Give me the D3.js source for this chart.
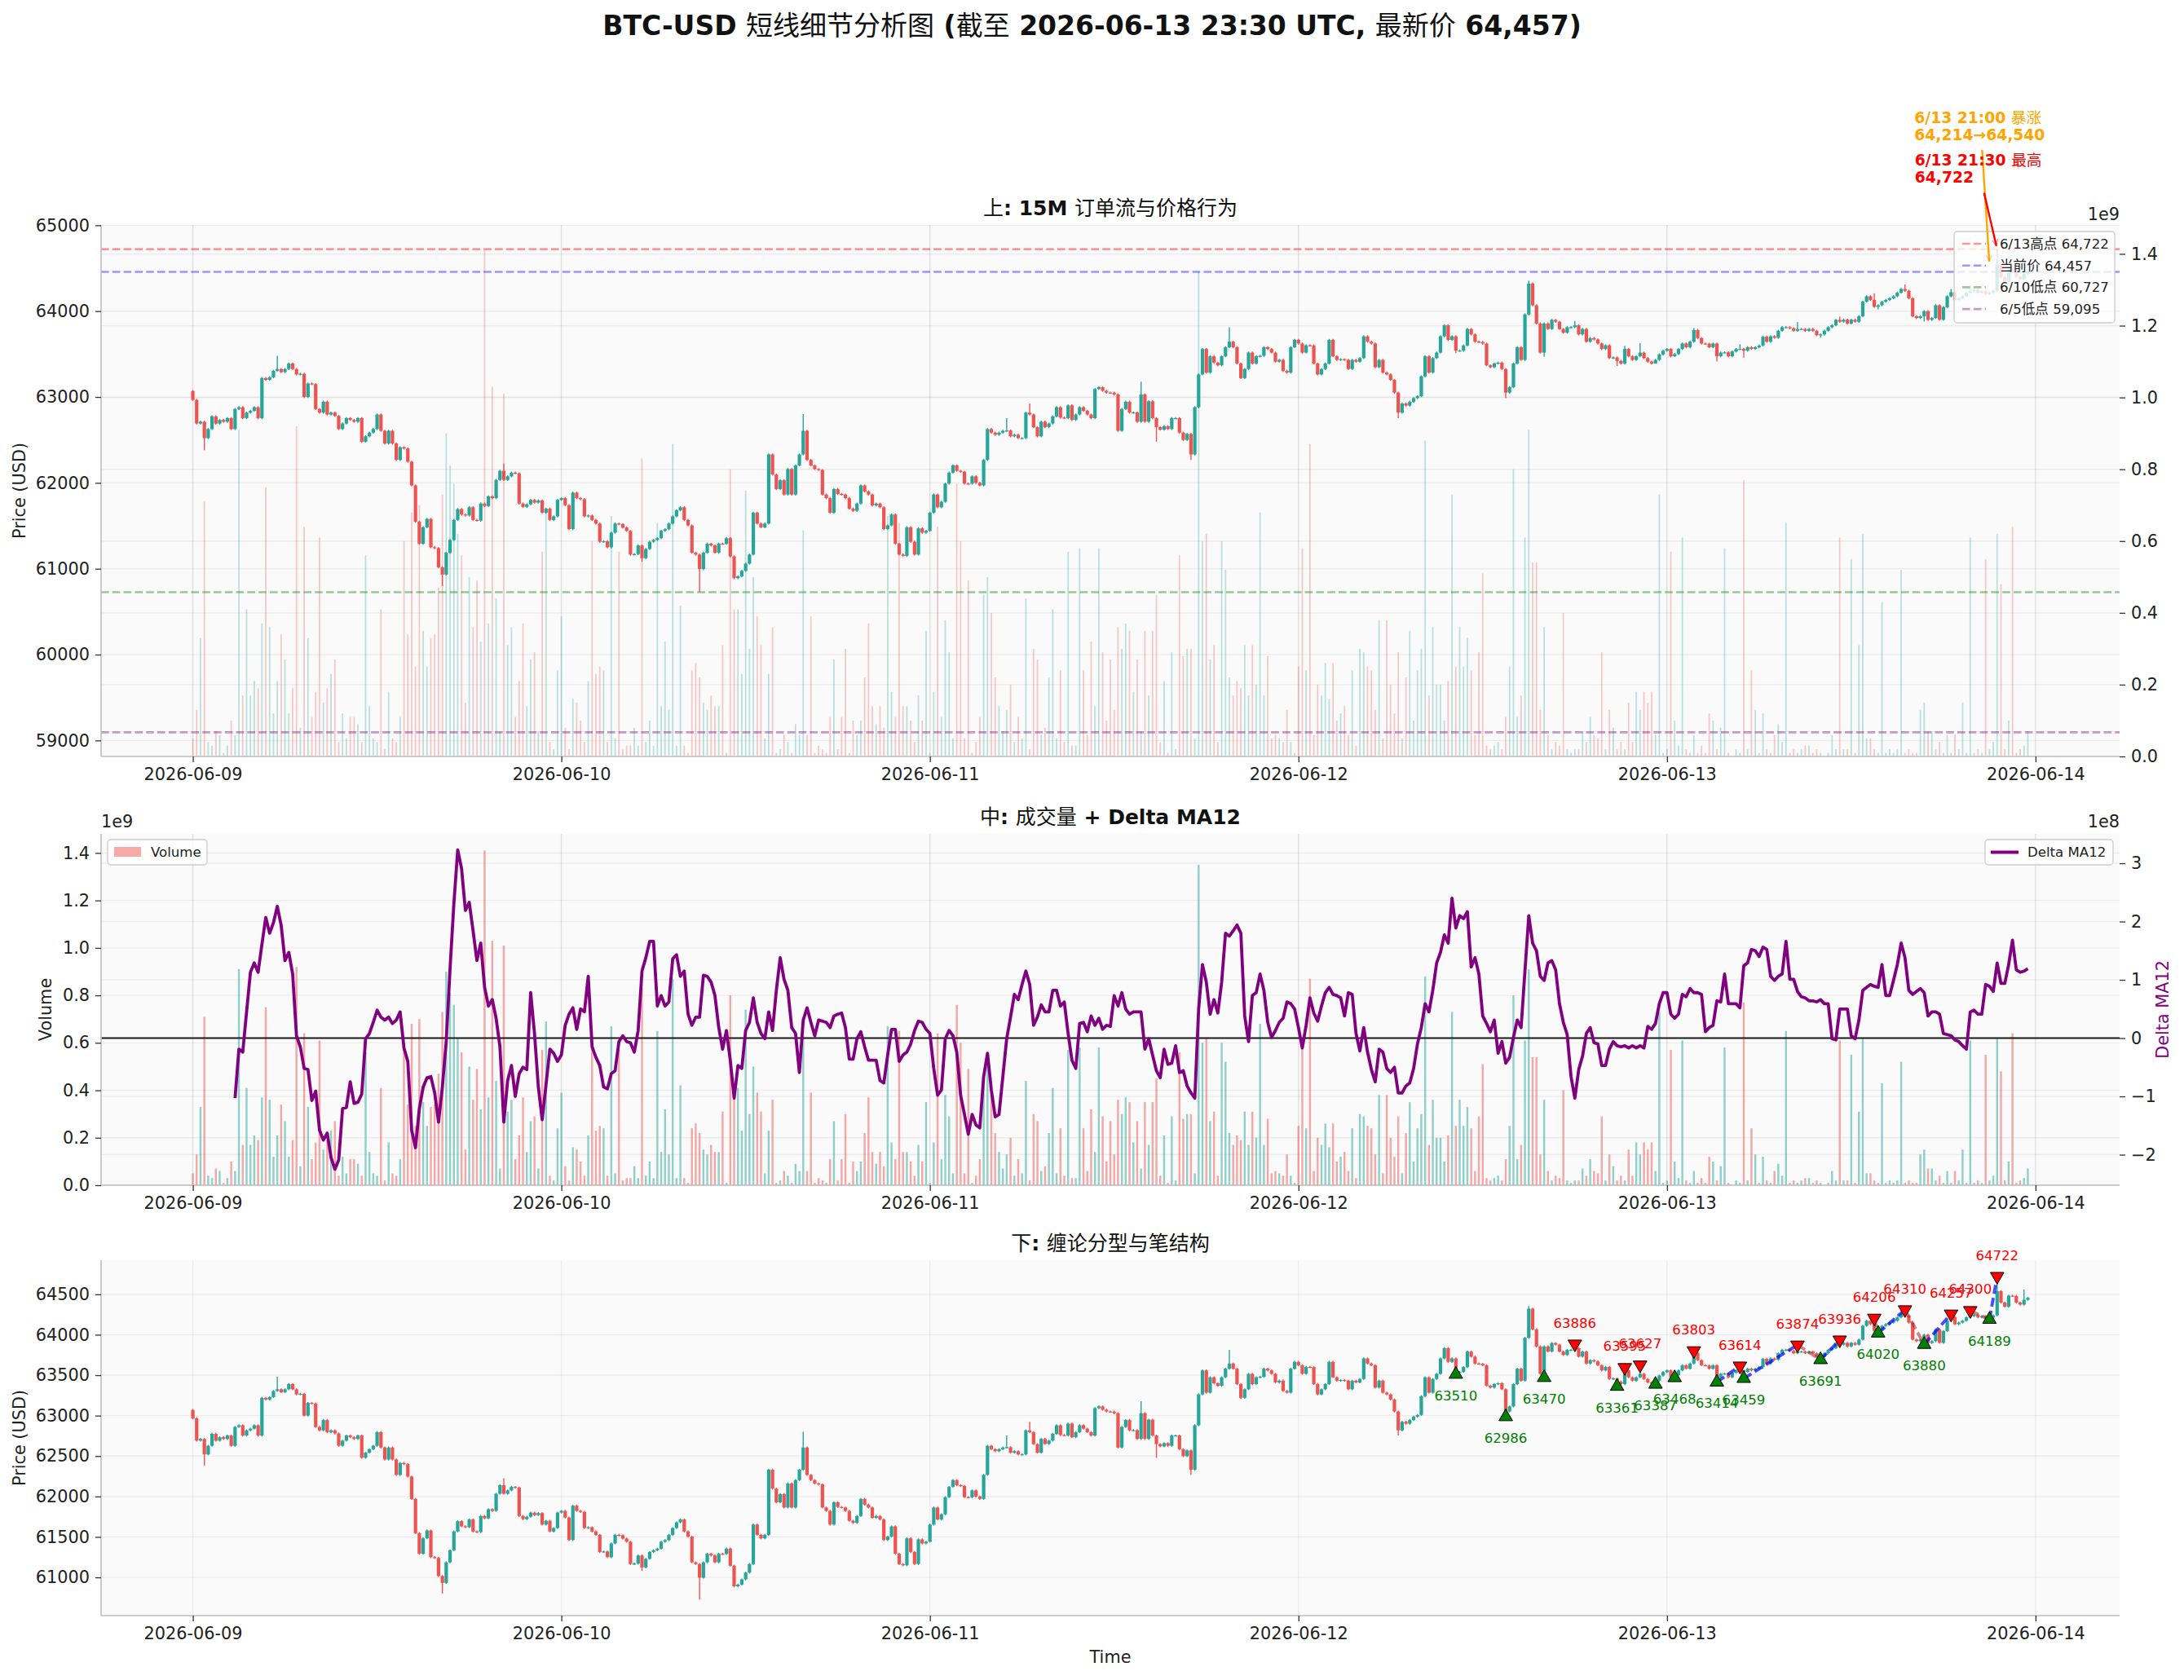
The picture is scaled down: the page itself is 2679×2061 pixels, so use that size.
<!DOCTYPE html>
<html><head><meta charset="utf-8">
<script src="https://cdn.jsdelivr.net/npm/d3@7"></script>
<style>body{margin:0;background:#fff}svg{display:block}</style>
</head><body>
<svg id="c" width="2679" height="2061"></svg>
<script>
// ---------------- DATA ----------------
const startTime = "2026-06-09T00:00:00Z";   // first 15M candle
const firstOpen = 63070;
// 15-minute closes, 2026-06-09 00:00 -> 2026-06-13 23:30 (rows of 10)
const closes = [
62966,62691,62712,62521,62627,62775,62690,62733,62712,62754,
62627,62860,62881,62754,62818,62839,62881,62754,63220,63200,
63230,63305,63326,63290,63326,63390,63326,63263,63270,63000,
63157,63150,62860,62818,62945,62796,62818,62780,62627,62691,
62754,62733,62712,62754,62479,62542,62585,62627,62796,62606,
62458,62606,62458,62267,62415,62400,62246,61970,61547,61292,
61483,61580,61250,61240,61017,60932,61186,61335,61568,61695,
61631,61620,61716,61568,61560,61759,61730,61843,61822,62034,
62140,62034,62076,62119,62110,61759,61720,61750,61801,61770,
61795,61653,61700,61568,61610,61801,61822,61740,61462,61886,
61822,61810,61610,61620,61568,61526,61314,61320,61250,61420,
61526,61520,61480,61441,61165,61170,61271,61123,61229,61314,
61335,61356,61441,61460,61526,61610,61680,61716,61568,61504,
61186,61165,60996,61186,61292,61271,61186,61292,61290,61356,
61144,60890,60911,60975,61059,61165,61653,61526,61483,61526,
62331,62097,61928,62030,61864,62161,61864,62203,62331,62606,
62267,62203,62161,62150,61864,61822,61653,61928,61870,61864,
61822,61700,61674,61759,61970,61900,61864,61737,61759,61716,
61462,61504,61631,61292,61165,61150,61483,61314,61165,61470,
61420,61441,61653,61864,61716,61780,61992,62119,62203,62140,
62130,61992,61990,62076,62000,61970,62267,62627,62585,62560,
62585,62606,62610,62542,62560,62521,62521,62818,62796,62648,
62542,62712,62650,62691,62775,62881,62760,62754,62902,62733,
62796,62881,62839,62796,62754,63093,63114,63072,63051,63050,
63030,62606,62860,62945,62818,62820,62712,63030,62712,62950,
62754,62648,62620,62660,62627,62754,62754,62585,62500,62570,
62331,62881,63263,63559,63284,63474,63400,63369,63474,63580,
63644,63580,63390,63220,63326,63517,63390,63474,63480,63580,
63559,63517,63411,63432,63305,63284,63580,63665,63623,63517,
63602,63600,63390,63263,63326,63390,63665,63474,63432,63440,
63432,63326,63432,63411,63453,63707,63644,63623,63347,63432,
63284,63263,63199,63051,62818,62924,62900,62945,62987,63008,
63241,63474,63284,63453,63517,63707,63835,63665,63707,63540,
63540,63600,63792,63729,63644,63640,63623,63369,63347,63390,
63400,63326,63051,63114,63390,63580,63432,63962,64322,64068,
63856,63517,63856,63792,63898,63877,63792,63750,63813,63813,
63835,63729,63792,63644,63686,63670,63623,63559,63602,63453,
63460,63420,63390,63559,63474,63432,63474,63517,63453,63411,
63390,63432,63496,63538,63559,63474,63500,63559,63623,63580,
63644,63780,63686,63623,63620,63580,63623,63474,63517,63520,
63474,63530,63559,63560,63540,63580,63560,63580,63600,63702,
63644,63707,63690,63771,63813,63813,63800,63771,63790,63792,
63771,63792,63771,63720,63729,63771,63813,63835,63898,63877,
63900,63856,63900,63877,63940,64110,64173,64130,64050,64068,
64110,64130,64150,64173,64215,64258,64237,64150,63940,63920,
63940,64000,63898,63920,64068,63900,64046,64173,64220,64130,
64150,64173,64215,64230,64250,64215,64230,64200,64214,64240,
64540,64398,64348,64483,64480,64398,64373,64432,64457
];
// volume per candle, units of 1e7
const volumes = [
5,13,33,71,4,3,7,6,1,3, 10,6,91,17,41,17,21,19,37,75,
36,12,21,34,27,12,19,92,8,64, 33,11,18,61,15,19,23,27,4,12,
5,11,11,9,4,56,14,5,4,41, 2,18,5,4,11,60,34,68,25,70,
35,25,33,34,47,73,90,81,76,62, 56,15,50,36,49,32,141,37,103,44,
7,101,31,36,11,21,37,14,27,29, 7,57,69,4,2,24,39,8,2,16,
15,10,4,21,60,23,25,24,4,67, 5,57,2,3,3,8,3,83,4,10,
3,65,14,32,13,87,3,42,3,1, 24,26,22,15,13,17,14,14,31,1,
80,41,41,23,74,30,50,39,31,5, 23,36,1,2,6,4,1,9,6,63,
6,39,1,3,2,1,11,27,2,11, 30,1,10,6,10,22,37,14,9,14,
8,67,18,11,65,14,14,10,4,17, 10,35,1,18,64,11,38,29,5,76,
60,5,49,1,4,11,45,50,40,22, 14,7,13,20,4,11,5,44,2,30,
27,6,8,22,41,5,24,4,57,3, 3,58,24,6,32,14,58,29,10,27,
13,36,30,37,35,18,27,7,35,17, 35,45,4,21,1,29,2,56,28,30,
30,5,135,60,62,27,31,4,60,52, 22,17,21,19,31,17,31,20,68,17,
28,5,6,5,4,13,4,1,25,58, 24,87,6,20,17,26,16,26,10,12,
14,6,24,3,30,29,25,24,13,38, 5,38,20,12,29,5,22,35,10,24,
30,88,17,36,20,20,10,21,73,25, 36,25,33,24,6,29,51,3,2,3,
4,2,11,25,80,11,17,61,91,54, 54,13,36,6,2,4,3,40,2,1,
2,2,7,4,11,6,5,29,2,13, 8,2,4,2,15,4,18,13,18,15,
18,6,73,1,2,57,10,3,61,2, 1,6,1,3,1,12,10,2,8,58,
1,0,2,1,77,2,24,13,1,12, 2,1,6,9,4,65,1,2,1,2,
3,3,1,2,1,0,1,6,2,61, 2,2,55,1,31,62,5,5,2,1,
43,1,2,1,2,52,1,2,1,1, 13,15,7,7,2,4,1,6,1,6,
2,15,1,61,1,2,1,55,2,4, 62,48,2,10,64,1,2,3,7
];
// Delta MA12, units of 1e8 (first 11 undefined)
const deltaMA12 = [
null,null,null,null,null,null,null,null,null,null,
null,-1.03,-0.19,-0.24,0.45,1.13,1.29,1.13,1.61,2.07,
1.80,1.98,2.26,1.94,1.33,1.47,1.10,0.04,-0.15,-0.52,
-0.54,-1.07,-0.91,-1.58,-1.75,-1.63,-2.05,-2.25,-2.09,-1.21,
-1.19,-0.75,-1.12,-1.10,-0.96,-0.01,0.08,0.27,0.48,0.36,
0.31,0.36,0.25,0.31,0.45,-0.17,-0.40,-1.58,-1.88,-1.21,
-0.84,-0.68,-0.66,-0.94,-1.44,-0.84,-0.06,1.19,2.31,3.23,
2.91,2.19,2.33,1.84,1.33,1.63,0.87,0.55,0.66,0.34,
-0.15,-1.44,-0.73,-0.47,-1.00,-0.61,-0.50,-0.54,0.78,0.08,
-0.84,-1.40,-0.80,-0.19,-0.26,-0.40,-0.29,0.22,0.41,0.52,
0.15,0.50,0.45,1.06,-0.15,-0.33,-0.47,-0.84,-0.87,-0.61,
-0.56,-0.06,0.04,-0.06,-0.08,-0.24,0.13,1.15,1.38,1.66,
1.66,0.55,0.73,0.55,0.62,1.36,1.43,1.06,1.15,0.41,
0.22,0.36,0.36,1.08,1.06,0.96,0.73,0.18,-0.19,0.13,
-0.38,-1.03,-0.47,-0.52,0.13,0.27,0.69,0.27,0.08,-0.01,
0.45,0.13,0.82,1.38,1.01,0.82,0.18,0.08,-0.59,0.31,
0.52,0.27,0.04,0.31,0.29,0.27,0.18,0.38,0.41,0.43,
0.18,-0.36,-0.36,-0.01,0.11,-0.15,-0.38,-0.38,-0.38,-0.73,
-0.77,-0.29,0.15,0.15,-0.40,-0.29,-0.24,-0.10,0.13,0.29,
0.27,0.15,0.08,-0.52,-0.98,-0.89,-0.01,0.13,0.04,-0.24,
-0.98,-1.31,-1.65,-1.31,-1.49,-1.54,-0.66,-0.26,-0.89,-1.35,
-1.31,-0.66,-0.01,0.36,0.75,0.66,0.92,1.15,0.92,0.22,
0.36,0.57,0.45,0.45,0.82,0.82,0.55,0.62,0.08,-0.38,
-0.52,0.25,0.27,0.11,0.38,0.22,0.34,0.15,0.22,0.20,
0.73,0.55,0.78,0.50,0.41,0.45,0.45,0.45,-0.19,-0.01,
-0.29,-0.56,-0.68,-0.19,-0.45,-0.43,-0.13,-0.59,-0.56,-0.82,
-0.94,-1.03,0.50,1.26,0.96,0.41,0.66,0.43,0.96,1.80,
1.75,1.84,1.94,1.80,0.38,-0.06,0.73,0.78,1.10,0.82,
0.27,0.01,0.13,0.27,0.34,0.62,0.59,0.50,0.18,-0.17,
0.22,0.69,0.43,0.29,0.55,0.78,0.87,0.75,0.73,0.69,
0.38,0.78,0.75,0.08,-0.22,0.18,-0.24,-0.54,-0.75,-0.19,
-0.24,-0.52,-0.59,-0.50,-0.94,-0.94,-0.82,-0.77,-0.52,-0.10,
0.18,0.59,0.45,0.82,1.29,1.47,1.77,1.63,2.40,1.89,
2.10,2.05,2.17,1.22,1.38,1.10,0.38,0.25,0.11,0.31,
-0.26,-0.06,-0.43,-0.33,0.01,0.31,0.18,1.15,2.10,1.63,
1.50,1.06,0.99,1.29,1.33,1.17,0.59,0.27,0.06,-0.66,
-1.03,-0.54,-0.31,0.08,0.18,-0.08,-0.10,-0.47,-0.47,-0.19,
-0.06,-0.13,-0.15,-0.13,-0.17,-0.13,-0.17,-0.13,-0.17,0.20,
0.15,0.25,0.59,0.78,0.78,0.41,0.34,0.41,0.75,0.71,
0.85,0.78,0.78,0.75,0.11,0.18,0.22,0.64,0.62,1.10,
0.59,0.59,0.59,0.52,1.24,1.29,1.52,1.50,1.40,1.56,
1.52,1.06,0.99,1.06,1.10,1.66,1.01,1.01,0.80,0.71,
0.69,0.64,0.64,0.62,0.66,0.59,0.59,-0.01,-0.03,0.50,
0.50,0.50,0.04,-0.01,0.31,0.82,0.87,0.92,0.89,0.87,
1.26,0.73,0.73,0.99,1.26,1.63,1.38,0.82,0.75,0.80,
0.85,0.78,0.38,0.45,0.45,0.41,0.08,0.06,0.04,-0.03,
-0.06,-0.13,-0.19,0.45,0.48,0.41,0.41,0.92,0.89,0.80,
1.29,0.94,0.94,1.26,1.68,1.17,1.13,1.15,1.19
];
// notable wicks [candle index, price]
const wickHighs = [[22,63480],[81,62225],[159,62800],[212,62754],[218,62924],[247,63178],[270,63813],[348,64356],[477,64558]];
const wickLows  = [[3,62380],[65,60800],[117,61080],[132,60727],[251,62479],[260,62267],[314,62754]];
const defaultWick = 12;
// Chan fractals [candle index, price]
const topFractals = [[360,63886],[373,63595],[377,63627],[391,63803],[403,63614],[418,63874],[429,63936],[438,64206],[446,64310],[458,64257],[463,64300],[470,64722]];
const bottomFractals = [[329,63510],[342,62986],[352,63470],[371,63361],[381,63387],[386,63468],[397,63414],[404,63459],[424,63691],[439,64020],[451,63880],[468,64189]];
// pens (笔) between fractal candles [from index, to index]
const pens = [[397,403],[403,404],[404,418],[418,424],[424,429],[438,439],[439,446],[446,451],[451,458],[463,468],[468,470]];
// reference levels
const levelLabels = ["6/13高点 64,722","当前价 64,457","6/10低点 60,727","6/5低点 59,095"];
const levelValues = [64722, 64457, 60727, 59095];
const levelColors = ["#ff0000","#0000ff","#008000","#800080"];
const dateTicks = ["2026-06-09","2026-06-10","2026-06-11","2026-06-12","2026-06-13","2026-06-14"];
const priceTicksTop = [59000,60000,61000,62000,63000,64000,65000];
const priceTicksBottom = [61000,61500,62000,62500,63000,63500,64000,64500];
const volTicks = [0,0.2,0.4,0.6,0.8,1.0,1.2,1.4];
const deltaTicks = [-2,-1,0,1,2,3];
const annotations = [
  {idx:468, price:64540, lines:["6/13 21:00 暴涨","64,214→64,540"], color:"#ffa500", tx:-92, ty:-174, ax:-9, ay:-141},
  {idx:470, price:64722, lines:["6/13 21:30 最高","64,722"], color:"#ff0000", tx:-101, ty:-103, ax:-16, ay:-69}
];

// ---------------- LAYOUT ----------------
const FONT = '"DejaVu Sans","Noto Sans CJK SC",sans-serif';
const L = 124, R = 2600;
const P1 = {top:276, bottom:928}, P2 = {top:1023, bottom:1454}, P3 = {top:1546, bottom:1982};
const UP = "#26a69a", DN = "#ef5350";
const svg = d3.select("#c").attr("font-family", FONT);
svg.append("rect").attr("width",2679).attr("height",2061).attr("fill","#fff");

const STEP = 15*60*1000;
const t0 = Date.parse(startTime);
const n = closes.length;
const candles = closes.map((c,i) => {
  const o = i === 0 ? firstOpen : closes[i-1];
  return {i, t:new Date(t0 + i*STEP), o, c,
    h: Math.max(o,c) + defaultWick, l: Math.min(o,c) - defaultWick,
    v: (volumes[i] || 0) * 1e7,
    d: deltaMA12[i] == null ? null : deltaMA12[i] * 1e8};
});
wickHighs.forEach(([i,p]) => candles[i].h = p);
wickLows.forEach(([i,p]) => candles[i].l = p);
topFractals.forEach(([i,p]) => candles[i].h = p);
bottomFractals.forEach(([i,p]) => candles[i].l = p);

const tLast = t0 + (n-1)*STEP, span = tLast - t0;
const x = d3.scaleUtc().domain([new Date(t0 - 0.05*span), new Date(tLast + 0.05*span)]).range([L, R]);

function pad(lo, hi){ const s = hi - lo; return [lo - 0.05*s, hi + 0.05*s]; }
const y1 = d3.scaleLinear().domain(pad(Math.min(d3.min(levelValues), d3.min(candles,d=>d.l)), Math.max(d3.max(levelValues), d3.max(candles,d=>d.h)))).range([P1.bottom, P1.top]);
const vMax = d3.max(candles, d=>d.v);
const yv1 = d3.scaleLinear().domain([0, vMax*1.05]).range([P1.bottom, P1.top]);
const yv2 = d3.scaleLinear().domain([0, vMax*1.05]).range([P2.bottom, P2.top]);
const dExt = d3.extent(candles.filter(d=>d.d!=null), d=>d.d);
const yd = d3.scaleLinear().domain(pad(dExt[0], dExt[1])).range([P2.bottom, P2.top]);
const y3 = d3.scaleLinear().domain(pad(d3.min(candles,d=>d.l), d3.max(candles,d=>d.h))).range([P3.bottom, P3.top]);

const dates = dateTicks.map(s => new Date(s + "T00:00:00Z"));

function frame(p){
  svg.append("rect").attr("x",L).attr("y",p.top).attr("width",R-L).attr("height",p.bottom-p.top).attr("fill","#fafafa");
}
function grid(p, yvals, ys){
  const g = svg.append("g").attr("stroke","#000").attr("stroke-opacity",0.055).attr("stroke-width",1.4);
  dates.forEach(d => g.append("line").attr("x1",x(d)).attr("x2",x(d)).attr("y1",p.top).attr("y2",p.bottom));
  yvals.forEach(v => g.append("line").attr("x1",L).attr("x2",R).attr("y1",ys(v)).attr("y2",ys(v)));
}
function spines(p){
  svg.append("line").attr("x1",L).attr("x2",L).attr("y1",p.top).attr("y2",p.bottom).attr("stroke","#bdbdbd").attr("stroke-width",1.6);
  svg.append("line").attr("x1",L).attr("x2",R).attr("y1",p.bottom).attr("y2",p.bottom).attr("stroke","#bdbdbd").attr("stroke-width",1.6);
}
function styleAxis(sel){
  sel.select(".domain").remove();
  sel.selectAll(".tick line").attr("stroke","#333").attr("stroke-width",1.3);
  sel.selectAll(".tick text").attr("font-size",20.8).attr("fill","#222").attr("font-family",FONT);
}
function xAxis(p){
  svg.append("g").attr("transform",`translate(0,${p.bottom})`)
    .call(d3.axisBottom(x).tickValues(dates).tickFormat(d3.utcFormat("%Y-%m-%d")).tickSize(7).tickPadding(7)).call(styleAxis);
}
function richText(sel, str, boldLatin){
  const parts = str.match(/[\u3000-\u9fff\uff00-\uffef]+|[^\u3000-\u9fff\uff00-\uffef]+/g);
  parts.forEach(p => sel.append("tspan").text(p)
    .attr("font-weight", /[\u3000-\u9fff\uff00-\uffef]/.test(p) ? "normal" : (boldLatin ? "bold" : "normal")));
}
function title(str, yb, size){
  const t = svg.append("text").attr("x",(L+R)/2).attr("y",yb).attr("text-anchor","middle").attr("font-size",size).attr("fill","#111");
  richText(t, str, true);
}
function ylabel(str, xc, p, color){
  svg.append("text").attr("transform",`translate(${xc},${(p.top+p.bottom)/2}) rotate(-90)`)
    .attr("text-anchor","middle").attr("dy","0.35em").attr("font-size",20.8).attr("fill",color||"#222").text(str);
}
const BW = 4.2;
function drawCandles(ys){
  const g = svg.append("g");
  candles.forEach(d => {
    const col = d.c >= d.o ? UP : DN, cx = x(d.t);
    g.append("line").attr("x1",cx).attr("x2",cx).attr("y1",ys(d.h)).attr("y2",ys(d.l)).attr("stroke",col).attr("stroke-width",1.4);
    const yt = ys(Math.max(d.o,d.c)), yb = ys(Math.min(d.o,d.c));
    g.append("rect").attr("x",cx-BW/2).attr("y",yt).attr("width",BW).attr("height",Math.max(1.2,yb-yt)).attr("fill",col);
  });
}
function drawVolume(ys, w, op){
  const g = svg.append("g");
  candles.forEach(d => {
    if (!d.v) return;
    g.append("rect").attr("x",x(d.t)-w/2).attr("y",ys(d.v)).attr("width",w).attr("height",ys(0)-ys(d.v))
      .attr("fill", d.c >= d.o ? UP : DN).attr("fill-opacity",op);
  });
}

// ---------------- SUPTITLE ----------------
{
  const t = svg.append("text").attr("x",2679/2).attr("y",43).attr("text-anchor","middle").attr("font-size",33).attr("fill","#111");
  richText(t, "BTC-USD 短线细节分析图 (截至 2026-06-13 23:30 UTC, 最新价 64,457)", true);
}

// ---------------- PANEL 1 ----------------
frame(P1);
grid(P1, priceTicksTop, y1);
grid(P1, volTicks.map(v=>v*1e9).filter(v=>v>0), yv1);
drawVolume(yv1, 1.8, 0.3);
levelValues.forEach((v,k) => svg.append("line").attr("x1",L).attr("x2",R).attr("y1",y1(v)).attr("y2",y1(v))
  .attr("stroke",levelColors[k]).attr("stroke-opacity",0.4).attr("stroke-width",2.6).attr("stroke-dasharray","9.6,4.2"));
drawCandles(y1);
spines(P1);
svg.append("g").attr("transform",`translate(${L},0)`).call(d3.axisLeft(y1).tickValues(priceTicksTop).tickFormat(d3.format("d")).tickSize(7).tickPadding(7)).call(styleAxis);
svg.append("g").attr("transform",`translate(${R},0)`).call(d3.axisRight(yv1).tickValues(volTicks.map(v=>v*1e9)).tickFormat(v=>(v/1e9).toFixed(1)).tickSize(7).tickPadding(7)).call(styleAxis);
svg.append("text").attr("x",R).attr("y",270).attr("text-anchor","end").attr("font-size",20.8).attr("fill","#222").text("1e9");
xAxis(P1);
ylabel("Price (USD)", 24, P1);
title("上: 15M 订单流与价格行为", 264, 25);
// legend
{
  const g = svg.append("g");
  g.append("rect").attr("x",2397).attr("y",284).attr("width",197).attr("height",112).attr("rx",4)
    .attr("fill","#fff").attr("fill-opacity",0.8).attr("stroke","#cccccc").attr("stroke-width",1.3);
  levelLabels.forEach((s,k) => {
    const yy = 299 + k*26.7;
    g.append("line").attr("x1",2407).attr("x2",2436).attr("y1",yy).attr("y2",yy).attr("stroke",levelColors[k])
      .attr("stroke-opacity",0.4).attr("stroke-width",2.6).attr("stroke-dasharray","9.6,4.2");
    g.append("text").attr("x",2453).attr("y",yy).attr("dy","0.35em").attr("font-size",16.6).attr("fill","#222").text(s);
  });
}
// annotations
{
  const defs = svg.append("defs");
  annotations.forEach((a,k) => {
    defs.append("marker").attr("id","ah"+k).attr("viewBox","0 0 10 10").attr("refX",9).attr("refY",5)
      .attr("markerWidth",9).attr("markerHeight",9).attr("markerUnits","userSpaceOnUse").attr("orient","auto")
      .append("path").attr("d","M0,1 L9,5 L0,9").attr("fill","none").attr("stroke",a.color).attr("stroke-width",1.2).attr("stroke-opacity",0.5);
    const px = x(candles[a.idx].t), py = y1(a.price);
    const ang = Math.atan2(-a.ay, -a.ax), shrink = 4;
    svg.append("line").attr("x1",px+a.ax).attr("y1",py+a.ay).attr("x2",px - shrink*Math.cos(ang)).attr("y2",py - shrink*Math.sin(ang))
      .attr("stroke",a.color).attr("stroke-width",2.4).attr("marker-end",`url(#ah${k})`);
    a.lines.forEach((s,j) => {
      const t = svg.append("text").attr("x",px+a.tx).attr("y",py+a.ty+j*21.5).attr("font-size",18.7).attr("fill",a.color);
      richText(t, s, true);
    });
  });
}

// ---------------- PANEL 2 ----------------
frame(P2);
grid(P2, volTicks.map(v=>v*1e9), yv2);
grid(P2, deltaTicks.map(v=>v*1e8), yd);
drawVolume(yv2, 2.4, 0.5);
svg.append("line").attr("x1",L).attr("x2",R).attr("y1",yd(0)).attr("y2",yd(0)).attr("stroke","#1a1a1a").attr("stroke-width",2.1);
svg.append("path").datum(candles).attr("fill","none").attr("stroke","#800080").attr("stroke-width",3.8).attr("stroke-linejoin","round")
  .attr("d", d3.line().defined(d=>d.d!=null).x(d=>x(d.t)).y(d=>yd(d.d)));
spines(P2);
svg.append("g").attr("transform",`translate(${L},0)`).call(d3.axisLeft(yv2).tickValues(volTicks.map(v=>v*1e9)).tickFormat(v=>(v/1e9).toFixed(1)).tickSize(7).tickPadding(7)).call(styleAxis);
svg.append("g").attr("transform",`translate(${R},0)`).call(d3.axisRight(yd).tickValues(deltaTicks.map(v=>v*1e8)).tickFormat(v=>{const k=Math.round(v/1e8);return k<0?"\u2212"+(-k):String(k);}).tickSize(7).tickPadding(7)).call(styleAxis);
svg.append("text").attr("x",L).attr("y",1015).attr("font-size",20.8).attr("fill","#222").text("1e9");
svg.append("text").attr("x",R).attr("y",1015).attr("text-anchor","end").attr("font-size",20.8).attr("fill","#222").text("1e8");
xAxis(P2);
ylabel("Volume", 56, P2);
ylabel("Delta MA12", 2653, P2, "#800080");
title("中: 成交量 + Delta MA12", 1011, 25);
{
  const g = svg.append("g");
  g.append("rect").attr("x",132).attr("y",1030).attr("width",122).attr("height",31).attr("rx",4).attr("fill","#fff").attr("fill-opacity",0.8).attr("stroke","#cccccc").attr("stroke-width",1.3);
  g.append("rect").attr("x",140).attr("y",1039).attr("width",33).attr("height",12).attr("fill",candles[0].c>=candles[0].o?UP:DN).attr("fill-opacity",0.5);
  g.append("text").attr("x",185).attr("y",1045.5).attr("dy","0.35em").attr("font-size",16.6).attr("fill","#222").text("Volume");
  g.append("rect").attr("x",2435).attr("y",1030).attr("width",157).attr("height",31).attr("rx",4).attr("fill","#fff").attr("fill-opacity",0.8).attr("stroke","#cccccc").attr("stroke-width",1.3);
  g.append("line").attr("x1",2442).attr("x2",2476).attr("y1",1045.5).attr("y2",1045.5).attr("stroke","#800080").attr("stroke-width",3.8);
  g.append("text").attr("x",2487).attr("y",1045.5).attr("dy","0.35em").attr("font-size",16.6).attr("fill","#222").text("Delta MA12");
}

// ---------------- PANEL 3 ----------------
frame(P3);
grid(P3, priceTicksBottom, y3);
drawCandles(y3);
{
  const fr = new Map();
  topFractals.forEach(([i,p]) => fr.set(i,p));
  bottomFractals.forEach(([i,p]) => fr.set(i,p));
  const g = svg.append("g");
  pens.forEach(([a,b]) => {
    const pa = fr.get(a), pb = fr.get(b), up = pb > pa;
    g.append("line").attr("x1",x(candles[a].t)).attr("y1",y3(pa)).attr("x2",x(candles[b].t)).attr("y2",y3(pb))
      .attr("stroke", up ? "#0000ff" : "#b22222").attr("stroke-opacity", up ? 0.7 : 0.55)
      .attr("stroke-width",3.8).attr("stroke-dasharray","11,5");
  });
  const tri = d3.symbol().type(d3.symbolTriangle).size(120);
  topFractals.forEach(([i,p]) => {
    const cx = x(candles[i].t), cy = y3(p);
    g.append("path").attr("d",tri()).attr("transform",`translate(${cx},${cy}) rotate(180)`).attr("fill","#ff0000").attr("stroke","#000").attr("stroke-width",1);
    g.append("text").attr("x",cx).attr("y",cy-26).attr("dy","0.35em").attr("text-anchor","middle").attr("font-size",16.6).attr("fill","#ff0000").text(p);
  });
  bottomFractals.forEach(([i,p]) => {
    const cx = x(candles[i].t), cy = y3(p);
    g.append("path").attr("d",tri()).attr("transform",`translate(${cx},${cy})`).attr("fill","#008000").attr("stroke","#000").attr("stroke-width",1);
    g.append("text").attr("x",cx).attr("y",cy+26).attr("dy","0.35em").attr("text-anchor","middle").attr("font-size",16.6).attr("fill","#008000").text(p);
  });
}
spines(P3);
svg.append("g").attr("transform",`translate(${L},0)`).call(d3.axisLeft(y3).tickValues(priceTicksBottom).tickFormat(d3.format("d")).tickSize(7).tickPadding(7)).call(styleAxis);
xAxis(P3);
ylabel("Price (USD)", 24, P3);
svg.append("text").attr("x",(L+R)/2).attr("y",2040).attr("text-anchor","middle").attr("font-size",20.8).attr("fill","#222").text("Time");
title("下: 缠论分型与笔结构", 1534, 25);
</script>
</body></html>
